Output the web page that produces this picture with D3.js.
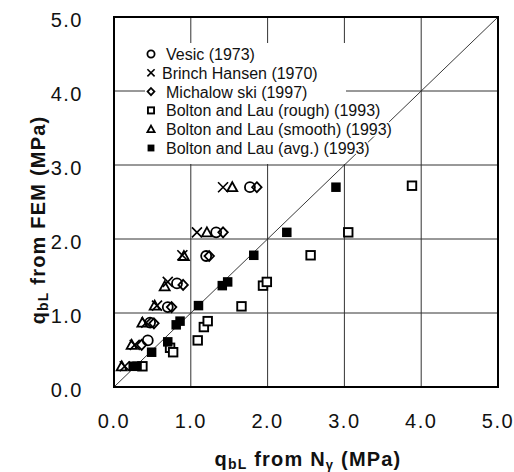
<!DOCTYPE html>
<html>
<head>
    <script src="https://d3js.org/d3.v7.min.js"></script>
    <style type="text/css">
        body { margin: 0; background: #fff; }
        svg { font-family: "Liberation Sans", Arial, sans-serif; }
        .grid line { stroke: #333; stroke-width: 1; }
        .tick-label { font-size: 20px; letter-spacing: 1.5px; fill: #111; }
        .axis-title { font-size: 20px; font-weight: bold; letter-spacing: 1.2px; fill: #111; }
        .legend text { font-size: 16px; fill: #111; stroke: #fff; stroke-width: 3px; paint-order: stroke; }
    </style>
</head>
<body>
<div id="chart"></div>
<script type="text/javascript">
    // tick values (MPa)
    const ticks = [0, 1, 2, 3, 4, 5];

    // series: [qbL from N_gamma, qbL from FEM]
    const vesic = [[0.44, 0.63], [0.47, 0.87], [0.70, 1.08], [0.82, 1.40], [1.20, 1.77], [1.33, 2.09], [1.77, 2.70]];
    const brinchHansen = [[0.14, 0.28], [0.27, 0.57], [0.42, 0.87], [0.56, 1.10], [0.70, 1.42], [0.89, 1.78], [1.08, 2.09], [1.42, 2.70]];
    const michalowski = [[0.36, 0.57], [0.52, 0.86], [0.75, 1.08], [0.90, 1.38], [1.24, 1.77], [1.42, 2.09], [1.86, 2.70]];
    const boltonRough = [[0.37, 0.28], [0.73, 0.53], [0.77, 0.47], [1.09, 0.63], [1.17, 0.81], [1.22, 0.89], [1.66, 1.09], [1.94, 1.37], [1.99, 1.42], [2.56, 1.78], [3.05, 2.09], [3.88, 2.72]];
    const boltonSmooth = [[0.10, 0.28], [0.23, 0.57], [0.37, 0.87], [0.53, 1.10], [0.66, 1.36], [0.91, 1.77], [1.21, 2.09], [1.54, 2.70]];
    const boltonAvg = [[0.25, 0.28], [0.30, 0.28], [0.49, 0.47], [0.70, 0.61], [0.81, 0.84], [0.86, 0.89], [1.10, 1.10], [1.41, 1.37], [1.48, 1.42], [1.82, 1.78], [2.25, 2.09], [2.89, 2.70]];

    const series = [
        { name: "Vesic (1973)", data: vesic, shape: "circle" },
        { name: "Brinch Hansen (1970)", data: brinchHansen, shape: "cross" },
        { name: "Michalow ski (1997)", data: michalowski, shape: "diamond" },
        { name: "Bolton and Lau (rough) (1993)", data: boltonRough, shape: "square" },
        { name: "Bolton and Lau (smooth) (1993)", data: boltonSmooth, shape: "triangle" },
        { name: "Bolton and Lau (avg.) (1993)", data: boltonAvg, shape: "filled" }
    ];

    const width = 514, height = 472;
    const svg = d3.select("#chart").append("svg")
        .attr("width", width)
        .attr("height", height);

    const x = d3.scaleLinear().domain([0, 5]).range([114, 498]);
    const y = d3.scaleLinear().domain([0, 5]).range([387, 17]);

    // grid
    const grid = svg.append("g").attr("class", "grid");
    grid.selectAll("line.v").data(ticks.slice(1, -1)).join("line")
        .attr("class", "v")
        .attr("x1", d => x(d)).attr("x2", d => x(d))
        .attr("y1", y(0)).attr("y2", y(5));
    grid.selectAll("line.h").data(ticks.slice(1, -1)).join("line")
        .attr("class", "h")
        .attr("x1", x(0)).attr("x2", x(5))
        .attr("y1", d => y(d)).attr("y2", d => y(d));

    // legend background hides the grid behind it
    svg.append("rect")
        .attr("x", 145).attr("y", 43)
        .attr("width", 201).attr("height", 121)
        .attr("fill", "#fff");

    // 1:1 line
    svg.append("line")
        .attr("x1", x(0)).attr("y1", y(0))
        .attr("x2", x(5)).attr("y2", y(5))
        .attr("stroke", "#222").attr("stroke-width", 0.9);

    function drawMarker(sel, shape, s) {
        // s = half size
        if (shape === "circle") {
            sel.append("circle").attr("r", s).attr("fill", "none").attr("stroke", "#000").attr("stroke-width", 1.8);
        } else if (shape === "cross") {
            sel.append("path").attr("d", `M${-s},${-s}L${s},${s}M${-s},${s}L${s},${-s}`)
                .attr("stroke", "#000").attr("stroke-width", 1.6).attr("fill", "none");
        } else if (shape === "diamond") {
            sel.append("path").attr("d", `M0,${-s}L${s * 0.95},0L0,${s}L${-s * 0.95},0Z`)
                .attr("fill", "none").attr("stroke", "#000").attr("stroke-width", 1.8);
        } else if (shape === "square") {
            const h = s * 0.85;
            sel.append("rect").attr("x", -h).attr("y", -h).attr("width", 2 * h).attr("height", 2 * h)
                .attr("fill", "#fff").attr("stroke", "#000").attr("stroke-width", 1.9);
        } else if (shape === "triangle") {
            sel.append("path").attr("d", `M0,${-s}L${s},${s * 0.8}L${-s},${s * 0.8}Z`)
                .attr("fill", "none").attr("stroke", "#000").attr("stroke-width", 1.8);
        } else if (shape === "filled") {
            const h = s * 0.95;
            sel.append("rect").attr("x", -h).attr("y", -h).attr("width", 2 * h).attr("height", 2 * h)
                .attr("fill", "#000");
        }
    }

    // points
    series.forEach(sr => {
        svg.append("g").selectAll("g").data(sr.data).join("g")
            .attr("transform", d => `translate(${x(d[0])},${y(d[1])})`)
            .each(function () { drawMarker(d3.select(this), sr.shape, 5); });
    });

    // frame
    svg.append("rect")
        .attr("x", x(0)).attr("y", y(5))
        .attr("width", x(5) - x(0)).attr("height", y(0) - y(5))
        .attr("fill", "none").attr("stroke", "#000").attr("stroke-width", 2);

    // legend
    const legend = svg.append("g").attr("class", "legend");
    const item = legend.selectAll("g").data(series).join("g")
        .attr("transform", (d, i) => `translate(151,${54 + i * 18.8})`);
    item.each(function (d) { drawMarker(d3.select(this), d.shape, 3.6); });
    item.append("text")
        .attr("x", d => d.shape === "cross" ? 11 : 15)
        .attr("y", 6)
        .text(d => d.name);

    // tick labels
    const fmt = d3.format(".1f");
    svg.append("g").selectAll("text").data(ticks).join("text")
        .attr("class", "tick-label")
        .attr("x", 83)
        .attr("y", d => y(d) + 10)
        .attr("text-anchor", "end")
        .text(fmt);
    svg.append("g").selectAll("text").data(ticks).join("text")
        .attr("class", "tick-label")
        .attr("x", d => x(d))
        .attr("y", 428)
        .attr("text-anchor", "middle")
        .text(fmt);

    // axis titles
    const xt = svg.append("text").attr("class", "axis-title")
        .attr("x", 308).attr("y", 466).attr("text-anchor", "middle");
    xt.append("tspan").text("q");
    xt.append("tspan").attr("font-size", 14).attr("dy", 3).text("bL");
    xt.append("tspan").attr("dy", -3).text(" from N");
    xt.append("tspan").attr("font-size", 13).attr("dy", 3).text("γ");
    xt.append("tspan").attr("dy", -3).text(" (MPa)");

    const yt = svg.append("text").attr("class", "axis-title")
        .attr("transform", "translate(45,220) rotate(-90)")
        .attr("text-anchor", "middle");
    yt.append("tspan").text("q");
    yt.append("tspan").attr("font-size", 14).attr("dy", 3).text("bL");
    yt.append("tspan").attr("dy", -3).text(" from FEM (MPa)");
</script>
</body>
</html>
